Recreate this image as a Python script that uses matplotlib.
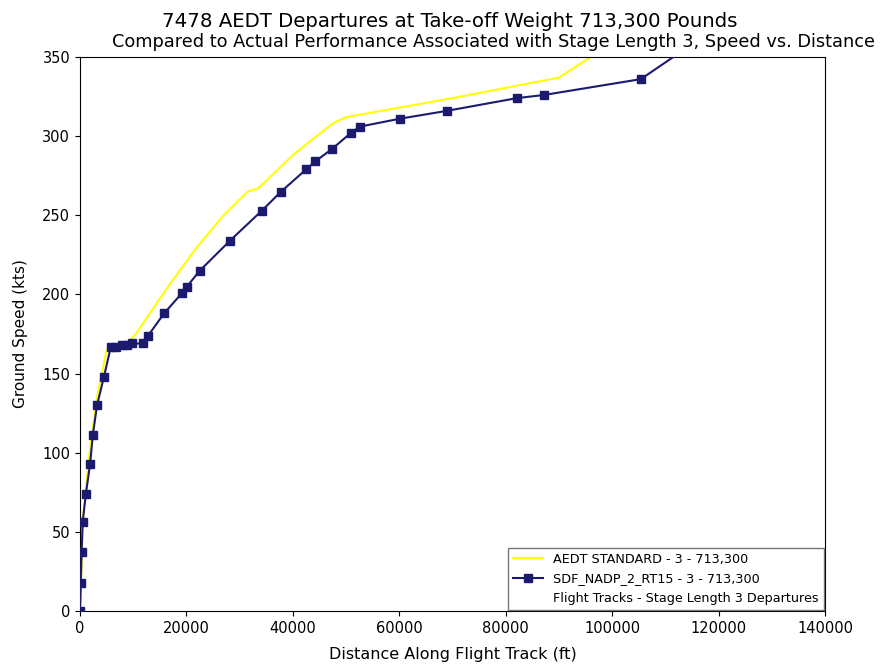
import matplotlib
matplotlib.use("Agg")
import matplotlib.pyplot as plt
from matplotlib.lines import Line2D

aedt_x = [0, 600, 1800, 3200, 5000, 9000, 10500, 13500, 17000, 22000, 27000, 31500, 33500, 40000, 47500, 50000, 70000, 90000, 96000, 100000]
aedt_y = [0, 60, 100, 135, 165, 170, 175, 190, 207, 230, 250, 265, 267, 288, 308, 312, 324, 337, 350, 360]

sdf_x = [0, 150, 300, 500, 1100, 1900, 2400, 3200, 4500, 5800, 6800, 7800, 8800, 9800, 11800, 12800, 15800, 19200, 20100, 22500, 28200, 34200, 37800, 42500, 44200, 47400, 50900, 52600, 60100, 69000, 82100, 87200, 105400, 115000]
sdf_y = [0, 18, 37, 56, 74, 93, 111, 130, 148, 167, 167, 168, 168, 169, 169, 174, 188, 201, 205, 215, 234, 253, 265, 279, 284, 292, 302, 306, 311, 316, 324, 326, 336, 358]

title1 = "7478 AEDT Departures at Take-off Weight 713,300 Pounds"
title2 = "Compared to Actual Performance Associated with Stage Length 3, Speed vs. Distance"

fig = plt.figure(figsize=(8.86, 6.68), dpi=100)
ax = fig.add_axes([0.0903, 0.0853, 0.8408, 0.8294])
ax.plot(aedt_x, aedt_y, color="#ffff00", lw=1.5, label="AEDT STANDARD - 3 - 713,300", zorder=2)
ax.plot(sdf_x, sdf_y, color="#1c1a6e", lw=1.5, marker="s", markersize=6,
        label="SDF_NADP_2_RT15 - 3 - 713,300", zorder=3)
ax.set_xlim(0, 140000)
ax.set_ylim(0, 350)
ax.set_xticks(range(0, 140001, 20000))
ax.set_yticks(range(0, 351, 50))
ax.tick_params(labelsize=10.5)
ax.set_xlabel("Distance Along Flight Track (ft)", fontsize=11.5, labelpad=8)
ax.set_ylabel("Ground Speed (kts)", fontsize=11, labelpad=10)
fig.text(450 / 886, 1 - 27 / 668, title1, ha="center", va="baseline", fontsize=14.2)
fig.text(494 / 886, 1 - 47 / 668, title2, ha="center", va="baseline", fontsize=12.8)
handles, labels = ax.get_legend_handles_labels()
handles.append(Line2D([], [], linestyle="none"))
labels.append("Flight Tracks - Stage Length 3 Departures")
ax.legend(handles, labels, loc="lower right", fontsize=9.2, handlelength=2.3,
          borderaxespad=0.1, fancybox=False, edgecolor="#555555")
fig.savefig("out.png", dpi=100)
